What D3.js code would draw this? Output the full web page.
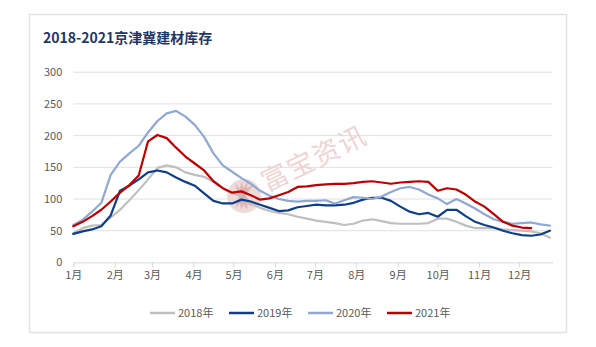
<!DOCTYPE html>
<html>
<head>
<meta charset="utf-8">
<script src="https://cdn.jsdelivr.net/npm/d3@7"></script>
<style>
  html, body { margin: 0; padding: 0; background: #ffffff; }
  svg { display: block; }
</style>
</head>
<body>
<svg id="chart" width="596" height="347"></svg>
<script>
// Weekly inventory values, one entry per week starting Jan 1
const seriesNames = ["2018年", "2019年", "2020年", "2021年"];
const v2018 = [46, 54, 58, 59, 71, 83, 98, 114, 131, 149, 153, 150, 142, 138, 135, 127, 117, 109, 105, 93, 86, 81, 78, 76, 72, 69, 66, 64, 62, 59, 61, 66, 68, 65, 62, 61, 61, 61, 62, 69, 69, 64, 58, 54, 54, 54, 52, 51, 50, 49, 46, 39];
const v2019 = [45, 49, 52, 57, 74, 113, 121, 131, 142, 145, 142, 134, 127, 121, 109, 97, 93, 93, 99, 96, 91, 86, 81, 82, 87, 89, 91, 90, 90, 91, 94, 99, 102, 102, 97, 88, 80, 76, 78, 72, 83, 83, 73, 64, 59, 55, 50, 46, 43, 42, 44, 50];
const v2020 = [59, 67, 80, 94, 138, 159, 172, 184, 205, 223, 235, 239, 230, 217, 198, 172, 153, 143, 133, 124, 113, 105, 100, 97, 96, 97, 97, 98, 93, 98, 103, 102, 100, 104, 111, 117, 119, 115, 107, 101, 92, 100, 93, 85, 76, 68, 64, 61, 62, 63, 60, 58];
const v2021 = [57, 64, 73, 83, 96, 110, 122, 137, 191, 201, 196, 181, 167, 156, 145, 128, 117, 110, 112, 106, 99, 101, 106, 111, 119, 120, 122, 123, 124, 124, 125, 127, 128, 126, 124, 126, 127, 128, 127, 113, 117, 115, 107, 96, 88, 76, 64, 58, 55, 54, null, null];
const monthLabels = ["1月", "2月", "3月", "4月", "5月", "6月", "7月", "8月", "9月", "10月", "11月", "12月"];
const yTicks = [0, 50, 100, 150, 200, 250, 300];
const seriesColors = ["#bfbfbf", "#0e3f8c", "#8fa8d3", "#c00000"];

const svg = d3.select("#chart");
const font = "'Noto Sans CJK SC', 'Noto Sans', sans-serif";

// Outer frame
svg.append("rect")
  .attr("x", 29.5).attr("y", 14.5)
  .attr("width", 537).attr("height", 318)
  .attr("fill", "#ffffff")
  .attr("stroke", "#e3e3e3").attr("stroke-width", 1.5);

// Title
svg.append("text")
  .attr("x", 43).attr("y", 43)
  .attr("font-family", font)
  .attr("font-size", 14).attr("font-weight", "bold")
  .attr("fill", "#1f3868")
  .text("2018-2021京津冀建材库存");

const yearRef = 2021;
const x = d3.scaleTime()
  .domain([new Date(yearRef, 0, 1), new Date(yearRef, 11, 26)])
  .range([73.3, 552.5]);
const y = d3.scaleLinear().domain([0, 300]).range([262.4, 72.2]);

const weekDate = i => d3.timeDay.offset(new Date(yearRef, 0, 1), i * 7);

// Horizontal gridlines
svg.append("g").selectAll("line")
  .data(yTicks.filter(t => t > 0))
  .join("line")
  .attr("x1", x.range()[0]).attr("x2", x.range()[1])
  .attr("y1", d => y(d)).attr("y2", d => y(d))
  .attr("stroke", "#e0e0e0").attr("stroke-width", 1);

// Y axis labels
const yAxis = d3.axisLeft(y).tickValues(yTicks).tickSize(0).tickPadding(11);
const gy = svg.append("g").attr("transform", `translate(${x.range()[0]},0)`).call(yAxis);
gy.select(".domain").remove();
gy.selectAll("text").attr("font-family", font).attr("font-size", 11).attr("fill", "#595959");

// X axis with month ticks
const monthStarts = d3.range(12).map(m => new Date(yearRef, m, 1));
const xAxis = d3.axisBottom(x)
  .tickValues(monthStarts)
  .tickFormat((d, i) => monthLabels[i])
  .tickSize(5).tickPadding(4).tickSizeOuter(0);
const gx = svg.append("g").attr("transform", `translate(0,${y(0)})`).call(xAxis);
gx.select(".domain").attr("stroke", "#d9d9d9");
gx.selectAll(".tick line").attr("stroke", "#d9d9d9");
gx.selectAll("text").attr("font-family", font).attr("font-size", 11).attr("fill", "#595959");

// Watermark
const wm = svg.append("g").attr("pointer-events", "none");
const logo = wm.append("g").attr("transform", "translate(244,196)");
logo.append("circle").attr("r", 17).attr("fill", "#ecd3d3").attr("opacity", 0.85);
[-40, -15, 10, 35].forEach(a => {
  logo.append("path")
    .attr("d", "M0,14 C-6,4 -5,-6 2,-15 C0,-5 3,4 0,14 Z")
    .attr("transform", `rotate(${a})`)
    .attr("fill", "#d9aaaa").attr("opacity", 0.7);
});
wm.append("text")
  .attr("transform", "translate(267,192) rotate(-26)")
  .attr("font-family", font).attr("font-size", 27)
  .attr("fill", "#efd0d0").attr("opacity", 0.9)
  .attr("letter-spacing", 1.5)
  .text("富宝资讯");

// Series lines
const allSeries = [v2018, v2019, v2020, v2021];
const line = d3.line()
  .defined(d => d != null)
  .x((d, i) => x(weekDate(i)))
  .y(d => y(d));

svg.append("g").selectAll("path")
  .data(allSeries)
  .join("path")
  .attr("d", d => line(d))
  .attr("fill", "none")
  .attr("stroke", (d, i) => seriesColors[i])
  .attr("stroke-width", 2.2)
  .attr("stroke-linejoin", "round")
  .attr("stroke-linecap", "round");

// Legend
const legend = svg.append("g").attr("transform", "translate(150,313)");
const items = legend.selectAll("g")
  .data(seriesNames)
  .join("g")
  .attr("transform", (d, i) => `translate(${i * 79},0)`);
items.append("line")
  .attr("x1", 0).attr("x2", 25).attr("y1", 0).attr("y2", 0)
  .attr("stroke", (d, i) => seriesColors[i]).attr("stroke-width", 2.5);
items.append("text")
  .attr("x", 28).attr("y", 4)
  .attr("font-family", font).attr("font-size", 11)
  .attr("fill", "#595959")
  .text(d => d);
</script>
</body>
</html>
